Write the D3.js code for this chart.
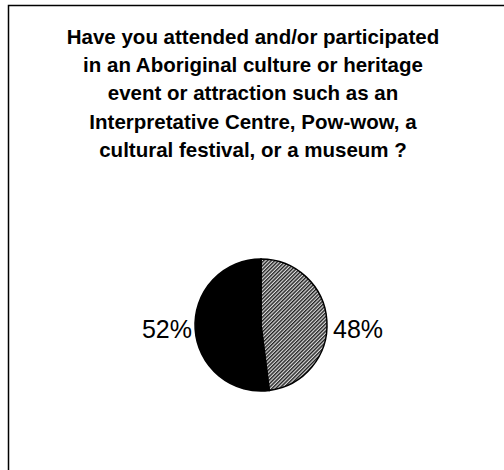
<!DOCTYPE html>
<html><head><meta charset="utf-8">
<script src="https://cdn.jsdelivr.net/npm/d3@7"></script>
<style>body{margin:0;background:#fff}svg{display:block}</style>
</head><body>
<script>
const titleLines = ["Have you attended and/or participated","in an Aboriginal culture or heritage","event or attraction such as an","Interpretative Centre, Pow-wow, a","cultural festival, or a museum ?"];
const categories = ["Yes","No"];
const values = [48,52];
const labels = ["48%","52%"];

const W=504,H=470;
const svg=d3.select("body").append("svg").attr("width",W).attr("height",H);
const defs=svg.append("defs");
const pat=defs.append("pattern").attr("id","hatch").attr("patternUnits","userSpaceOnUse").attr("width",2.6).attr("height",2.6).attr("patternTransform","rotate(-45)");
pat.append("rect").attr("width",2.6).attr("height",2.6).attr("fill","#ddd");
pat.append("rect").attr("width",2.6).attr("height",1.4).attr("fill","#222");

svg.append("rect").attr("x",8.5).attr("y",5.5).attr("width",W).attr("height",H).attr("fill","#fff").attr("stroke","#000").attr("stroke-width",1.5);

svg.append("g").selectAll("text").data(titleLines).join("text")
  .attr("x",253).attr("y",(d,i)=>43.5+i*28.4).attr("text-anchor","middle")
  .attr("font-family","Liberation Sans, Arial, sans-serif").attr("font-weight","bold").attr("font-size",20.5)
  .text(d=>d);

const cx=261,cy=325,r=66;
const pie=d3.pie().sort(null).value(d=>d)(values);
const arc=d3.arc().innerRadius(0).outerRadius(r);
const fills=["url(#hatch)","#000"];
const g=svg.append("g").attr("transform",`translate(${cx},${cy})`);
g.selectAll("path").data(pie).join("path").attr("d",arc).attr("fill",(d,i)=>fills[i]).attr("stroke","#000").attr("stroke-width",1.5);
g.selectAll("text").data(pie).join("text")
  .attr("x",(d,i)=>i===0? r+6 : -(r+3)).attr("y",13)
  .attr("text-anchor",(d,i)=>i===0?"start":"end")
  .attr("font-family","Liberation Sans, Arial, sans-serif").attr("font-size",25)
  .text((d,i)=>labels[i]);
</script>
</body></html>
